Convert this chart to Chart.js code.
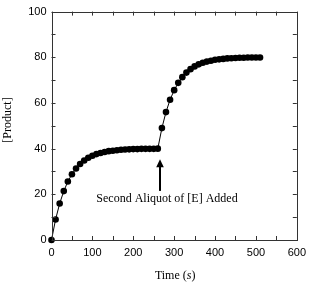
<!DOCTYPE html>
<html>
<head>
<meta charset="utf-8">
<script src="https://cdn.jsdelivr.net/npm/chart.js@4"></script>
<style>
  body { margin: 0; background: #fff; }
  canvas { display: block; }
</style>
</head>
<body>
<canvas id="product-chart" width="312" height="286"></canvas>
<script>
// Data (time in s, product concentration)
var timeValues = [0, 10, 20, 30, 40, 50, 60, 70, 80, 90, 100, 110, 120, 130, 140, 150, 160, 170, 180, 190,
  200, 210, 220, 230, 240, 250, 260,
  270, 280, 290, 300, 310, 320, 330, 340, 350, 360, 370, 380, 390, 400, 410, 420, 430, 440, 450, 460,
  470, 480, 490, 500, 510];
var productValues = [0, 9.0, 16.0, 21.4, 25.6, 28.8, 31.3, 33.3, 34.8, 36.0, 36.9, 37.6, 38.1, 38.5, 38.9, 39.1,
  39.3, 39.5, 39.6, 39.7, 39.8, 39.8, 39.9, 39.9, 39.9, 39.9, 40.0,
  49.0, 56.0, 61.4, 65.6, 68.8, 71.3, 73.3, 74.8, 76.0, 76.9, 77.6, 78.1, 78.5, 78.9, 79.1, 79.3, 79.5,
  79.6, 79.7, 79.8, 79.8, 79.9, 79.9, 79.9, 79.9];
var xTicks = [0, 100, 200, 300, 400, 500, 600];
var yTicks = [0, 20, 40, 60, 80, 100];
var noteText = 'Second Aliquot of [E] Added';

// Colors
var inkColor = '#000';
var axisColor = '#333';

var serifFont = '"Liberation Serif", "Times New Roman", serif';
var sansFont = '"Liberation Sans", Arial, Helvetica, sans-serif';

var points = timeValues.map(function (t, i) { return { x: t, y: productValues[i] }; });

// frame, inward ticks, axis titles, note and arrow
var decorations = {
  id: 'decorations',
  afterDraw: function (chart) {
    var ctx = chart.ctx;
    var a = chart.chartArea;
    var xs = chart.scales.x;
    var ys = chart.scales.y;
    ctx.save();
    ctx.strokeStyle = axisColor;
    ctx.lineWidth = 1;
    ctx.strokeRect(Math.round(a.left) + 0.5, Math.round(a.top) + 0.5,
      Math.round(a.right - a.left), Math.round(a.bottom - a.top));

    ctx.beginPath();
    for (var v = 0; v <= 600; v += 50) {
      var px = Math.round(xs.getPixelForValue(v)) + 0.5;
      ctx.moveTo(px, a.bottom); ctx.lineTo(px, a.bottom - 4);
      ctx.moveTo(px, a.top); ctx.lineTo(px, a.top + 4);
    }
    for (var w = 0; w <= 100; w += 10) {
      var py = Math.round(ys.getPixelForValue(w)) + 0.5;
      ctx.moveTo(a.left, py); ctx.lineTo(a.left + 4, py);
      ctx.moveTo(a.right, py); ctx.lineTo(a.right - 4, py);
    }
    ctx.stroke();

    // axis titles
    ctx.fillStyle = inkColor;
    ctx.font = '12px ' + serifFont;
    ctx.textBaseline = 'middle';
    var cx = (a.left + a.right) / 2;
    var p1 = 'Time (', p2 = 's', p3 = ')';
    var w1 = ctx.measureText(p1).width, w3 = ctx.measureText(p3).width;
    ctx.font = 'italic 12px ' + serifFont;
    var w2 = ctx.measureText(p2).width;
    var sx = cx - (w1 + w2 + w3) / 2 + 1;
    ctx.textAlign = 'left';
    ctx.font = '12px ' + serifFont;
    ctx.fillText(p1, sx, 276);
    ctx.font = 'italic 12px ' + serifFont;
    ctx.fillText(p2, sx + w1, 276);
    ctx.font = '12px ' + serifFont;
    ctx.fillText(p3, sx + w1 + w2, 276);

    ctx.save();
    ctx.translate(8, 120);
    ctx.rotate(-Math.PI / 2);
    ctx.textAlign = 'center';
    ctx.fillText('[Product]', 0, 0);
    ctx.restore();

    // note
    ctx.textAlign = 'center';
    ctx.fillText(noteText, 167, 199);

    // arrow
    var ax = Math.round(xs.getPixelForValue(265));
    var top = ys.getPixelForValue(35.3);
    var bot = ys.getPixelForValue(21.5);
    ctx.fillRect(ax - 1, top + 6, 2, bot - top - 6);
    ctx.beginPath();
    ctx.moveTo(ax, top);
    ctx.lineTo(ax - 3.8, top + 8);
    ctx.lineTo(ax + 3.8, top + 8);
    ctx.closePath();
    ctx.fill();
    ctx.restore();
  }
};

var productChart = new Chart(document.getElementById('product-chart'), {
  type: 'scatter',
  data: {
    datasets: [
      {
        data: points,
        showLine: true,
        clip: false,
        borderColor: inkColor,
        borderWidth: 1,
        backgroundColor: inkColor,
        pointBackgroundColor: inkColor,
        pointBorderWidth: 0,
        pointRadius: 3.3,
        tension: 0
      }
    ]
  },
  options: {
    responsive: false,
    animation: false,
    devicePixelRatio: 1,
    layout: { padding: { top: 7, right: 10, left: 0, bottom: 0 } },
    plugins: {
      legend: { display: false },
      tooltip: { enabled: false }
    },
    scales: {
      x: {
        type: 'linear',
        min: 0,
        max: 600,
        afterBuildTicks: function (scale) {
          scale.ticks = xTicks.map(function (v) { return { value: v }; });
        },
        afterFit: function (scale) { scale.height = 46; },
        grid: { display: false, drawTicks: false },
        border: { display: false },
        ticks: {
          padding: 6,
          maxRotation: 0,
          color: inkColor,
          font: { family: sansFont, size: 11 }
        }
      },
      y: {
        type: 'linear',
        min: 0,
        max: 100,
        afterBuildTicks: function (scale) {
          scale.ticks = yTicks.map(function (v) { return { value: v }; });
        },
        afterFit: function (scale) { scale.width = 51.5; },
        grid: { display: false, drawTicks: false },
        border: { display: false },
        ticks: {
          padding: 5,
          color: inkColor,
          font: { family: sansFont, size: 11 }
        }
      }
    }
  },
  plugins: [decorations]
});
</script>
</body>
</html>
